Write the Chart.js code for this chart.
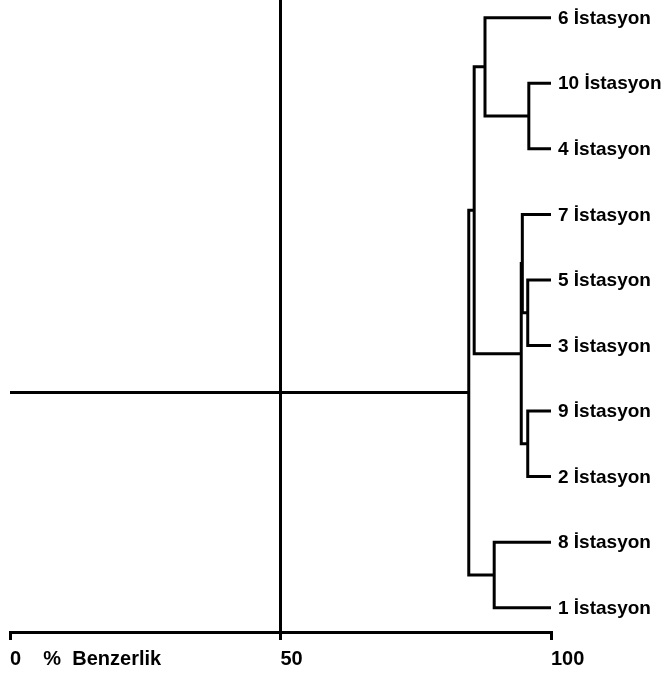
<!DOCTYPE html>
<html>
<head>
<meta charset="utf-8">
<script src="https://cdn.jsdelivr.net/npm/chart.js@4.4.1/dist/chart.umd.min.js"></script>
<style>
  html, body { margin: 0; padding: 0; background: #fff; }
  #wrap { width: 667px; height: 674px; }
</style>
</head>
<body>
<div id="wrap"><canvas id="dendro" width="667" height="674"></canvas></div>
<script>
// --- DATA ---
// leaves, top to bottom
const leafNames = ['6 İstasyon', '10 İstasyon', '4 İstasyon', '7 İstasyon', '5 İstasyon',
                   '3 İstasyon', '9 İstasyon', '2 İstasyon', '8 İstasyon', '1 İstasyon'];
// merges: node ids 0-9 are leaves, merge k creates node 10+k
const mergeLeft  = [1, 0, 4, 3, 6, 13, 11, 8, 16];
const mergeRight = [2, 10, 5, 12, 7, 14, 15, 9, 17];
const mergeLevel = [95.9, 87.8, 95.7, 94.7, 95.7, 94.5, 85.8, 89.5, 84.8];
const xTicks = [0, 50, 100];
const cutLevel = 50;
const axisTitle = '%  Benzerlik';

// --- BUILD NODE POSITIONS ---
const nodeX = leafNames.map(() => 100);
const nodeY = leafNames.map((_, i) => i);
const segments = [];

mergeLevel.forEach((h, k) => {
    const a = mergeLeft[k], b = mergeRight[k];
    segments.push([
        { x: nodeX[a], y: nodeY[a] },
        { x: h, y: nodeY[a] },
        { x: h, y: nodeY[b] },
        { x: nodeX[b], y: nodeY[b] }
    ]);
    nodeX.push(h);
    nodeY.push((nodeY[a] + nodeY[b]) / 2);
});

const root = nodeX.length - 1;
segments.push([{ x: nodeX[root], y: nodeY[root] }, { x: 0, y: nodeY[root] }]);

const yMin = -0.27, yMax = 9.37;
segments.push([{ x: cutLevel, y: yMin }, { x: cutLevel, y: yMax }]);

const datasets = segments.map(pts => ({
    data: pts,
    showLine: true,
    borderColor: '#000',
    borderWidth: 3,
    borderJoinStyle: 'miter',
    pointRadius: 0,
    tension: 0,
    clip: false
}));

const labelFont = '"Liberation Sans", Arial, sans-serif';

// leaf labels drawn next to the tips
const leafLabels = {
    id: 'leafLabels',
    afterDatasetsDraw(chart) {
        const { ctx, scales: { x, y } } = chart;
        ctx.save();
        ctx.fillStyle = '#000';
        ctx.font = 'bold 19px ' + labelFont;
        ctx.textBaseline = 'middle';
        ctx.textAlign = 'left';
        leafNames.forEach((name, i) => {
            ctx.fillText(name, x.getPixelForValue(100) + 7, y.getPixelForValue(i) + 1);
        });
        ctx.restore();
    }
};

new Chart(document.getElementById('dendro'), {
    type: 'scatter',
    data: { datasets },
    options: {
        responsive: false,
        animation: false,
        layout: { padding: { left: 10, right: 116, top: 0, bottom: -4 } },
        plugins: { legend: { display: false }, tooltip: { enabled: false } },
        scales: {
            x: {
                type: 'linear',
                min: 0,
                max: 100,
                afterBuildTicks: axis => { axis.ticks = xTicks.map(v => ({ value: v })); },
                border: { display: true, color: '#000', width: 3 },
                grid: { display: true, drawOnChartArea: false, drawTicks: true, tickLength: 8,
                        color: '#000', lineWidth: 3 },
                ticks: {
                    color: '#000',
                    align: 'start',
                    padding: 7,
                    font: { family: labelFont, size: 20, weight: 'bold' },
                    callback: v => v === 0 ? '0    ' + axisTitle : String(v)
                }
            },
            y: { type: 'linear', min: yMin, max: yMax, reverse: true, display: false }
        }
    },
    plugins: [leafLabels]
});
</script>
</body>
</html>
